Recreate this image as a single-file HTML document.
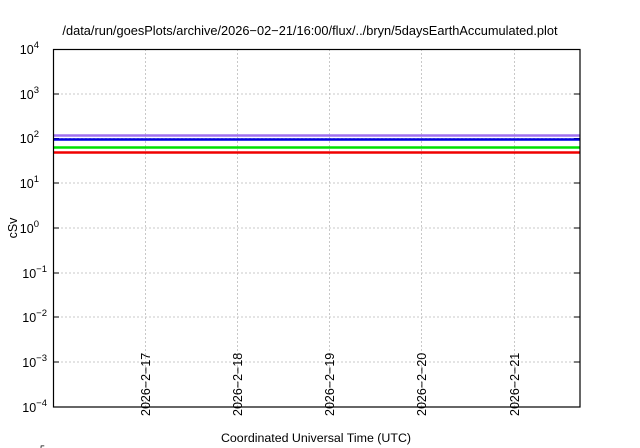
<!DOCTYPE html>
<html><head><meta charset="utf-8"><style>
html,body{margin:0;padding:0;background:#fff;}
svg{display:block;font-family:"Liberation Sans",sans-serif;}
</style></head><body>
<svg width="640" height="448" viewBox="0 0 640 448" xmlns="http://www.w3.org/2000/svg">
<rect width="640" height="448" fill="#fff"/>
<text x="310" y="35" font-size="12.8" text-anchor="middle" fill="#000">/data/run/goesPlots/archive/2026−02−21/16:00/flux/../bryn/5daysEarthAccumulated.plot</text>
<g stroke="#c8c8c8" stroke-width="1" stroke-dasharray="2,2">
<line x1="53" y1="94" x2="580" y2="94"/>
<line x1="53" y1="138.5" x2="580" y2="138.5"/>
<line x1="53" y1="183" x2="580" y2="183"/>
<line x1="53" y1="228" x2="580" y2="228"/>
<line x1="53" y1="273" x2="580" y2="273"/>
<line x1="53" y1="317" x2="580" y2="317"/>
<line x1="53" y1="362" x2="580" y2="362"/>
<line x1="145.5" y1="49" x2="145.5" y2="407"/>
<line x1="237.5" y1="49" x2="237.5" y2="407"/>
<line x1="329.5" y1="49" x2="329.5" y2="407"/>
<line x1="421.5" y1="49" x2="421.5" y2="407"/>
<line x1="514.5" y1="49" x2="514.5" y2="407"/>
</g>
<g stroke="#000" stroke-width="1">
<line x1="53" y1="94" x2="59" y2="94"/><line x1="53" y1="138.5" x2="59" y2="138.5"/>
<line x1="53" y1="183" x2="59" y2="183"/><line x1="53" y1="228" x2="59" y2="228"/>
<line x1="53" y1="273" x2="59" y2="273"/><line x1="53" y1="317" x2="59" y2="317"/>
<line x1="53" y1="362" x2="59" y2="362"/>
<line x1="574" y1="94" x2="580" y2="94"/><line x1="574" y1="138.5" x2="580" y2="138.5"/>
<line x1="574" y1="183" x2="580" y2="183"/><line x1="574" y1="228" x2="580" y2="228"/>
<line x1="574" y1="273" x2="580" y2="273"/><line x1="574" y1="317" x2="580" y2="317"/>
<line x1="574" y1="362" x2="580" y2="362"/>
</g>
<line x1="54" y1="135.5" x2="580" y2="135.5" stroke="#a070f0" stroke-width="2.5"/>
<line x1="54" y1="139.5" x2="580" y2="139.5" stroke="#0000e0" stroke-width="2.5"/>
<line x1="54" y1="147.5" x2="580" y2="147.5" stroke="#00e000" stroke-width="2.5"/>
<line x1="54" y1="152.5" x2="580" y2="152.5" stroke="#f00000" stroke-width="2.5"/>
<rect x="53.5" y="49.5" width="526.5" height="357.5" fill="none" stroke="#000" stroke-width="1.2"/>
<g font-size="12.5" text-anchor="end" fill="#000">
<text x="39" y="54">10<tspan font-size="9.5" dy="-6">4</tspan></text>
<text x="39" y="99">10<tspan font-size="9.5" dy="-6">3</tspan></text>
<text x="39" y="143">10<tspan font-size="9.5" dy="-6">2</tspan></text>
<text x="39" y="188">10<tspan font-size="9.5" dy="-6">1</tspan></text>
<text x="39" y="233">10<tspan font-size="9.5" dy="-6">0</tspan></text>
<text x="47" y="278">10<tspan font-size="9.5" dy="-6">−1</tspan></text>
<text x="47" y="322">10<tspan font-size="9.5" dy="-6">−2</tspan></text>
<text x="47" y="367">10<tspan font-size="9.5" dy="-6">−3</tspan></text>
<text x="47" y="412">10<tspan font-size="9.5" dy="-6">−4</tspan></text>
</g>
<text transform="translate(17,228) rotate(-90)" font-size="12.5" text-anchor="middle">cSv</text>
<g font-size="12.5" fill="#000">
<text transform="translate(150,416) rotate(-90)">2026−2−17</text>
<text transform="translate(242,416) rotate(-90)">2026−2−18</text>
<text transform="translate(334,416) rotate(-90)">2026−2−19</text>
<text transform="translate(426,416) rotate(-90)">2026−2−20</text>
<text transform="translate(519,416) rotate(-90)">2026−2−21</text>
</g>
<text x="316" y="442" font-size="12.4" text-anchor="middle">Coordinated Universal Time (UTC)</text>
<text x="40" y="452" font-size="9">5</text>
</svg>
</body></html>
